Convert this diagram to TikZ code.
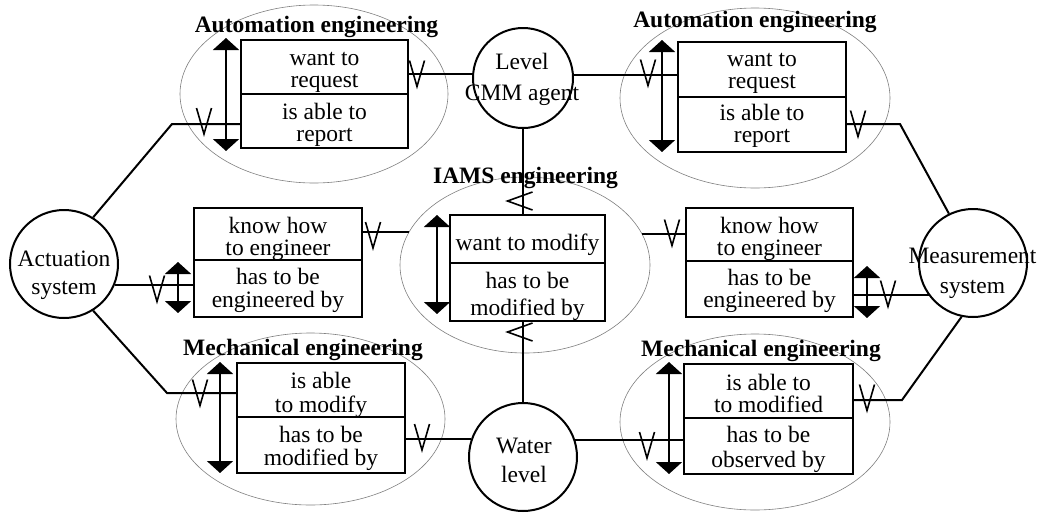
\documentclass[tikz,border=0pt]{standalone}
\usepackage{fontspec}
\setmainfont{Liberation Serif}
\usetikzlibrary{shapes.geometric,arrows.meta}
\newcommand\mkbox[6]{%
  \node[box,minimum width={#4-#2},minimum height={#5-#3}] (#1) at ({(#2+#4)/2},{(#3+#5)/2}) {};
  \draw[divl] (#2,#6) -- (#4,#6);}
\newcommand\tline[4]{\node[txt] (#1) at (#2,#3) {#4};}
\newcommand\tttl[4]{\node[ttl] (#1) at (#2,#3) {#4};}
\begin{document}
\begin{tikzpicture}[x=1pt,y=-1pt,
  box/.style={draw,line width=2pt,inner sep=0,rectangle},
  divl/.style={line width=2pt},
  circ/.style={draw,circle,line width=2pt,inner sep=0},
  grp/.style={draw=gray,ellipse,line width=0.6pt,inner sep=0},
  txt/.style={inner sep=0,anchor=base,font=\fontsize{23.5}{28}\selectfont},
  ttl/.style={inner sep=0,anchor=base,font=\fontsize{23.5}{28}\selectfont\bfseries},
  con/.style={line width=2pt},
  dbl/.style={line width=2pt,{Triangle[width=26pt,length=12pt]}-{Triangle[width=26pt,length=12pt]}},
  vm/.style={line width=1.6pt},
  pics/vmark/.style={code={\draw[vm] (-7.5,-13) -- (0,13) -- (7.5,-13);}},
  pics/lmark/.style={code={\draw[vm] (12.5,-9) -- (-12.5,0) -- (12.5,9);}},
]
\fill[white] (0,0) rectangle (1042,512);
\useasboundingbox (0,0) rectangle (1042,512);

% group ellipses
\node[grp,minimum width=268,minimum height=178] (tlE) at (314,94) {};
\node[grp,minimum width=270,minimum height=180] (trE) at (755,98) {};
\node[grp,minimum width=250,minimum height=176] (iamsE) at (525,265) {};
\node[grp,minimum width=269,minimum height=172] (blE) at (310.5,419) {};
\node[grp,minimum width=270,minimum height=176] (brE) at (755,422) {};

% titles
\tttl{tlT}{316.5}{32}{Automation engineering}
\tttl{trT}{755}{27}{Automation engineering}
\tttl{iT}{525.5}{183}{IAMS engineering}
\tttl{blT}{303}{355}{Mechanical engineering}
\tttl{brT}{761}{356}{Mechanical engineering}

% boxes
\mkbox{tl}{241}{40}{408}{148}{94}
\mkbox{tr}{678}{42}{846}{152}{97}
\mkbox{ml}{194}{208}{362}{317}{260}
\mkbox{ib}{450}{215}{605}{321}{263}
\mkbox{mr}{686}{208}{853}{317}{261}
\mkbox{bl}{237}{363}{405}{473}{417}
\mkbox{br}{684}{364}{853}{474}{418}

% box texts
\tline{tl1}{324.5}{65}{want to}
\tline{tl2}{324.5}{87}{request}
\tline{tl3}{324.5}{119}{is able to}
\tline{tl4}{324.5}{141}{report}
\tline{tr1}{762}{66}{want to}
\tline{tr2}{762}{88}{request}
\tline{tr3}{762}{120}{is able to}
\tline{tr4}{762}{142}{report}
\tline{ml1}{278}{233}{know how}
\tline{ml2}{278}{255}{to engineer}
\tline{ml3}{278}{284}{has to be}
\tline{ml4}{278}{307}{engineered by}
\tline{ib1}{527.5}{250}{want to modify}
\tline{ib2}{527.5}{288}{has to be}
\tline{ib3}{527.5}{315}{modified by}
\tline{mr1}{769.5}{233}{know how}
\tline{mr2}{769.5}{255}{to engineer}
\tline{mr3}{769.5}{285}{has to be}
\tline{mr4}{769.5}{307}{engineered by}
\tline{bl1}{321}{388}{is able}
\tline{bl2}{321}{412}{to modify}
\tline{bl3}{321}{442}{has to be}
\tline{bl4}{321}{465}{modified by}
\tline{br1}{768.5}{390}{is able to}
\tline{br2}{768.5}{412}{to modified}
\tline{br3}{768.5}{442}{has to be}
\tline{br4}{768.5}{467}{observed by}

% circles
\node[circ,minimum size=100] (lvl) at (523,78) {};
\node[circ,minimum size=108] (act) at (64,264) {};
\node[circ,minimum size=108] (wat) at (523,457) {};
\node[circ,minimum size=108] (mea) at (973,263) {};
\tline{lv1}{522}{69}{Level}
\tline{lv2}{522}{100}{CMM agent}
\tline{ac1}{64}{266}{Actuation}
\tline{ac2}{64}{294}{system}
\tline{wa1}{524}{453}{Water}
\tline{wa2}{524}{482}{level}
\tline{me1}{972.5}{263}{Measurement}
\tline{me2}{972.5}{293}{system}

% connectors
\coordinate (c1) at (172,124);
\coordinate (c2) at (900,124);
\coordinate (c3) at (167,393);
\coordinate (c4) at (902,400);
\draw[con] (act.58) -- (c1) -- (c1 -| tl.west);
\draw[con] (lvl.175.4) -- (lvl.175.4 -| tl.east);
\draw[con] (lvl.3.4) -- (lvl.3.4 -| tr.west);
\draw[con] (c2 -| tr.east) -- (c2) -- (mea.116.6);
\draw[con] (act.-23) -- (act.-23 -| ml.west);
\draw[con] (iamsE.164.1) -- (iamsE.164.1 -| ml.east);
\draw[con] (iamsE.15.9) -- (iamsE.15.9 -| mr.west);
\draw[con] (mea.216.7) -- (mea.216.7 -| mr.east);
\draw[con] (act.-58) -- (c3) -- (c3 -| bl.west);
\draw[con] (wat.161.6) -- (wat.161.6 -| bl.east);
\draw[con] (wat.18) -- (wat.18 -| br.west);
\draw[con] (c4 -| br.east) -- (c4) -- (mea.258.3);
\draw[con] (lvl.south) -- (lvl.south |- ib.north);
\draw[con] (wat.north) -- (wat.north |- ib.south);

% double arrows
\draw[dbl] (226,38) -- (226,151);
\draw[dbl] (662,40) -- (662,152);
\draw[dbl] (178,262) -- (178,313);
\draw[dbl] (437,215) -- (437,314);
\draw[dbl] (867,266) -- (867,318);
\draw[dbl] (220,362) -- (220,473);
\draw[dbl] (669,362) -- (669,474);

% tick marks
\pic at (204,121) {vmark};
\pic at (417,73.5) {vmark};
\pic at (648,72.5) {vmark};
\pic at (858,123.5) {vmark};
\pic at (373,235) {vmark};
\pic at (157,288.5) {vmark};
\pic at (672,232.5) {vmark};
\pic at (888,293.5) {vmark};
\pic at (200,392.5) {vmark};
\pic at (422,437) {vmark};
\pic at (647,445) {vmark};
\pic at (867,397.5) {vmark};
\pic at (520,201) {lmark};
\pic at (520,332) {lmark};
\end{tikzpicture}
\end{document}
